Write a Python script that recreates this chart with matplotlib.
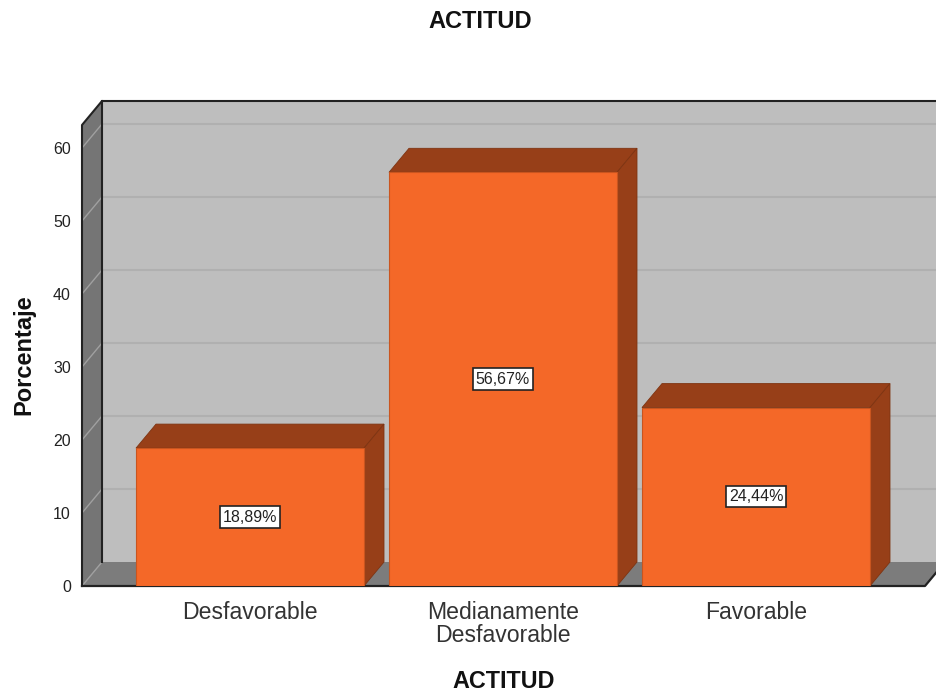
import matplotlib
matplotlib.use("Agg")
import matplotlib.pyplot as plt
from matplotlib.patches import Polygon

plt.rcParams['font.family'] = ['Liberation Sans', 'DejaVu Sans']

# datos
categorias = ['Desfavorable', 'Medianamente\nDesfavorable', 'Favorable']
porcentajes = [18.89, 56.67, 24.44]
etiquetas = ['18,89%', '56,67%', '24,44%']
y_ticks = [0, 10, 20, 30, 40, 50, 60]

# colores
NARANJA = '#F46828'
MARRON = '#973F18'
PARED = '#BEBEBE'
LATERAL = '#757575'
SUELO = '#7C7C7C'
REJILLA = '#B0B0B0'
OSCURO = '#222222'

# escala de la figura
W, H = 936, 700
PX_X = 253.0   # px por categoria
PX_Y = 7.3     # px por unidad de porcentaje
DX = 20 / PX_X
DY = 24 / PX_Y
ANCHO = 228 / PX_X
TOP = 485 / PX_Y

fig = plt.figure(figsize=(W / 100, H / 100), dpi=100)
ax = fig.add_axes([82 / W, (H - 586) / H, (925 - 82) / W, 485 / H])
x0 = (82 - 250) / PX_X
x1 = (925 - 250) / PX_X
ax.set_xlim(x0, x1)
ax.set_ylim(0, TOP)
ax.patch.set_visible(False)
for s in ax.spines.values():
    s.set_visible(False)


def poly(pts, color, ec='none', lw=0.0, z=1):
    ax.add_patch(Polygon(pts, closed=True, facecolor=color, edgecolor=ec,
                         linewidth=lw, zorder=z, clip_on=False))


# pared de fondo, lateral y suelo
poly([(x0 + DX, DY), (x1 + DX, DY), (x1 + DX, TOP), (x0 + DX, TOP)], PARED)
poly([(x0, 0), (x0 + DX, DY), (x0 + DX, TOP), (x0, TOP - DY)], LATERAL)
poly([(x0, 0), (x1, 0), (x1 + DX, DY), (x0 + DX, DY)], SUELO)

# rejilla sobre las paredes
for t in y_ticks[1:]:
    ax.plot([x0 + DX, x1 + DX], [t + DY, t + DY], color=REJILLA, lw=1.5, zorder=2, clip_on=False)
for t in y_ticks:
    ax.plot([x0, x0 + DX], [t, t + DY], color='#A0A0A0', lw=1.0, zorder=2, clip_on=False)

# bordes
ax.plot([x0, x0, x0 + DX, x1 + DX], [0, TOP - DY, TOP, TOP], color=OSCURO, lw=1.5, zorder=3, clip_on=False)
ax.plot([x0 + DX, x0 + DX], [DY, TOP], color=OSCURO, lw=1.5, zorder=3, clip_on=False)
ax.plot([x0, x1, x1 + DX], [0, 0, DY], color=OSCURO, lw=1.6, zorder=3, clip_on=False)

# barras
pos = list(range(len(categorias)))
ax.bar(pos, porcentajes, width=ANCHO, color=NARANJA, edgecolor='#C9551F', linewidth=0.8, zorder=6)
for p, v in zip(pos, porcentajes):
    izq, der = p - ANCHO / 2, p + ANCHO / 2
    poly([(izq, v), (der, v), (der + DX, v + DY), (izq + DX, v + DY)], MARRON, ec='#7E3412', lw=0.6, z=5)
    poly([(der, 0), (der + DX, DY), (der + DX, v + DY), (der, v)], MARRON, ec='#7E3412', lw=0.6, z=5)

# etiquetas de valor
for p, v, e in zip(pos, porcentajes, etiquetas):
    ax.text(p, v / 2, e, ha='center', va='center', fontsize=11.5, color='#222222', zorder=8,
            bbox=dict(boxstyle='square,pad=0.2', facecolor='white', edgecolor='#222222', linewidth=1.2))

ax.set_yticks(y_ticks)
ax.set_xticks(pos)
ax.set_xticklabels(categorias, fontsize=16.6, color='#333333', linespacing=1.0)
ax.tick_params(axis='y', length=0, pad=8, labelsize=11.5, labelcolor='#222222')
ax.tick_params(axis='x', length=0, pad=10.5)

ax.set_xlabel('ACTITUD', fontsize=16.8, fontweight='bold', color='#111111')
ax.xaxis.set_label_coords(0.5, (586 - 682) / 485, transform=ax.transAxes)
ax.xaxis.label.set_va('center')
ax.set_ylabel('Porcentaje', fontsize=17, fontweight='bold', color='#111111')
ax.yaxis.set_label_coords((24 - 82) / 843, (586 - 355) / 485, transform=ax.transAxes)
ax.yaxis.label.set_va('center')
fig.suptitle('ACTITUD', x=480 / W, y=1 - 22 / H, va='center', fontsize=17, fontweight='bold', color='#111111')

fig.savefig('out.png', dpi=100, facecolor='white')
